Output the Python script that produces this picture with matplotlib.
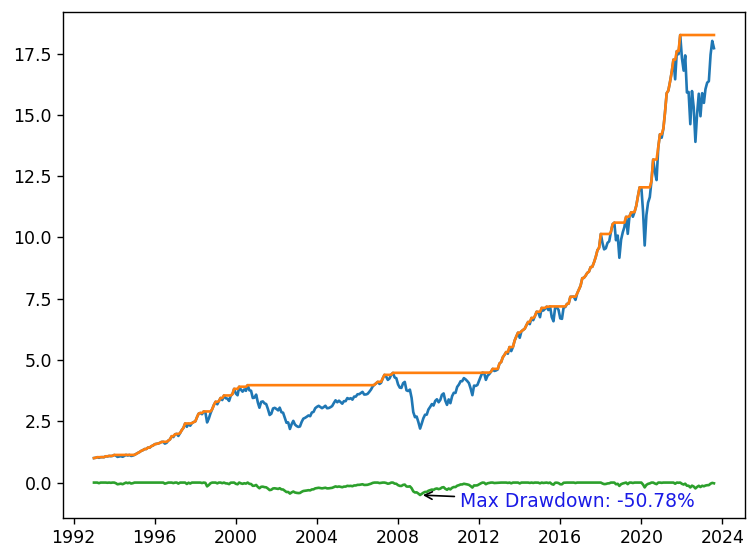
import numpy as np
import pandas as pd
import matplotlib
matplotlib.use("Agg")
import matplotlib.pyplot as plt
import matplotlib.dates as mdates

# monthly wealth index, Jan 1993 = 1.0
wealth = [
    # 1993
    1.000, 1.012, 1.035, 1.010, 1.035, 1.038, 1.035, 1.073, 1.065, 1.087, 1.077, 1.090,
    # 1994
    1.127, 1.096, 1.048, 1.063, 1.078, 1.052, 1.087, 1.130, 1.102, 1.128, 1.086, 1.101,
    # 1995
    1.130, 1.173, 1.208, 1.245, 1.292, 1.322, 1.367, 1.369, 1.428, 1.423, 1.485, 1.513,
    # 1996
    1.565, 1.578, 1.593, 1.618, 1.657, 1.663, 1.590, 1.622, 1.713, 1.760, 1.893, 1.855,
    # 1997
    1.971, 1.986, 1.903, 2.018, 2.138, 2.233, 2.412, 2.275, 2.398, 2.320, 2.426, 2.468,
    # 1998
    2.495, 2.673, 2.812, 2.840, 2.789, 2.902, 2.871, 2.454, 2.612, 2.824, 2.994, 3.165,
    # 1999
    3.298, 3.194, 3.322, 3.451, 3.367, 3.554, 3.443, 3.424, 3.330, 3.541, 3.611, 3.824,
    # 2000
    3.632, 3.562, 3.910, 3.790, 3.710, 3.802, 3.743, 3.974, 3.765, 3.746, 3.450, 3.466,
    # 2001
    3.589, 3.261, 3.054, 3.292, 3.311, 3.231, 3.202, 2.999, 2.757, 2.809, 3.023, 3.048,
    # 2002
    3.003, 2.946, 3.057, 2.871, 2.850, 2.646, 2.439, 2.455, 2.187, 2.378, 2.518, 2.368,
    # 2003
    2.305, 2.270, 2.291, 2.478, 2.609, 2.641, 2.686, 2.738, 2.708, 2.859, 2.884, 3.033,
    # 2004
    3.091, 3.131, 3.085, 3.036, 3.078, 3.135, 3.033, 3.042, 3.076, 3.122, 3.247, 3.356,
    # 2005
    3.276, 3.341, 3.282, 3.219, 3.321, 3.323, 3.448, 3.412, 3.442, 3.383, 3.508, 3.508,
    # 2006
    3.603, 3.607, 3.653, 3.701, 3.592, 3.595, 3.619, 3.702, 3.796, 3.922, 3.990, 4.047,
    # 2007
    4.110, 4.024, 4.070, 4.253, 4.395, 4.324, 4.189, 4.249, 4.405, 4.477, 4.287, 4.257,
    # 2008
    4.006, 3.875, 3.861, 4.054, 4.107, 3.763, 3.735, 3.792, 3.456, 2.877, 2.667, 2.695,
    # 2009
    2.469, 2.2035, 2.395, 2.624, 2.767, 2.772, 2.982, 3.086, 3.202, 3.143, 3.331, 3.398,
    # 2010
    3.277, 3.375, 3.579, 3.637, 3.344, 3.169, 3.394, 3.238, 3.527, 3.662, 3.659, 3.903,
    # 2011
    3.998, 4.135, 4.136, 4.261, 4.212, 4.141, 4.058, 3.836, 3.566, 3.956, 3.944, 3.984,
    # 2012
    4.166, 4.342, 4.487, 4.460, 4.189, 4.362, 4.426, 4.520, 4.639, 4.554, 4.576, 4.615,
    # 2013
    4.858, 4.919, 5.107, 5.210, 5.325, 5.257, 5.528, 5.363, 5.534, 5.792, 5.963, 6.116,
    # 2014
    5.907, 6.174, 6.225, 6.277, 6.418, 6.553, 6.464, 6.716, 6.625, 6.788, 6.969, 6.949,
    # 2015
    6.747, 7.127, 7.017, 7.086, 7.175, 7.038, 7.187, 6.751, 6.581, 7.141, 7.154, 7.043,
    # 2016
    6.699, 6.680, 7.135, 7.164, 7.288, 7.304, 7.579, 7.584, 7.585, 7.452, 7.718, 7.873,
    # 2017
    8.029, 8.338, 8.351, 8.438, 8.552, 8.605, 8.788, 8.804, 8.991, 9.203, 9.479, 9.584,
    # 2018
    10.142, 9.759, 9.515, 9.559, 9.778, 9.844, 10.218, 10.540, 10.605, 9.888, 10.077, 9.170,
    # 2019
    9.909, 10.217, 10.419, 10.842, 10.148, 10.861, 11.024, 10.844, 11.044, 11.291, 11.689, 12.045,
    # 2020
    12.040, 11.041, 9.672, 10.912, 11.420, 11.644, 12.300, 13.178, 12.676, 12.341, 13.684, 14.210,
    # 2021
    14.068, 14.444, 15.075, 15.884, 15.990, 16.356, 16.748, 17.254, 16.452, 17.601, 17.475, 18.259,
    # 2022
    17.319, 16.806, 17.428, 15.914, 15.934, 14.622, 15.973, 15.313, 13.900, 15.036, 15.863, 14.945,
    # 2023
    15.886, 15.490, 16.051, 16.315, 16.374, 17.455, 18.019, 17.721,
]

dates = pd.date_range("1993-01-01", periods=len(wealth), freq="MS")
wealth = pd.Series(wealth, index=dates)
peaks = wealth.cummax()
drawdown = wealth / peaks - 1

max_dd = drawdown.min()
max_dd_date = drawdown.idxmin()
label = "Max Drawdown: -50.78%"

plt.rcParams["font.size"] = 12.5

fig = plt.figure(figsize=(7.55, 5.56), dpi=100)
ax = fig.add_axes([0.0834, 0.0683, 0.9033, 0.9101])

ax.plot(wealth.index, wealth.values, lw=1.9)
ax.plot(peaks.index, peaks.values, lw=1.9)
ax.plot(drawdown.index, drawdown.values, lw=1.9)

ax.annotate(label, xy=(max_dd_date, max_dd),
            xytext=(pd.Timestamp("2011-01-20"), -0.78),
            va="center", color="#1a1ae6", fontsize=13.5,
            arrowprops=dict(arrowstyle="->", color="black", lw=1.2))

ax.xaxis.set_major_locator(mdates.YearLocator(4))
ax.xaxis.set_major_formatter(mdates.DateFormatter("%Y"))
ax.tick_params(length=4.4, width=1.0)
for s in ax.spines.values():
    s.set_linewidth(1.0)

fig.savefig("out.png", dpi=100)
